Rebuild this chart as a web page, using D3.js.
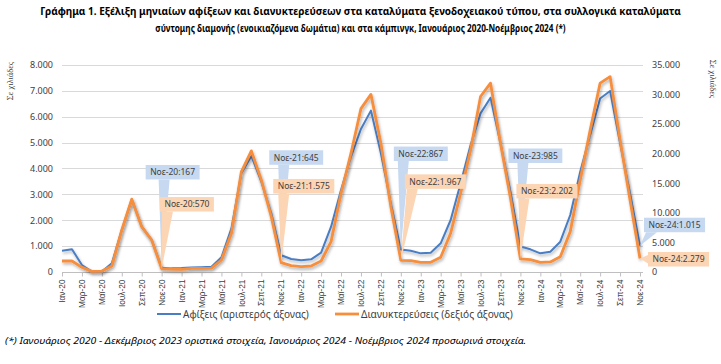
<!DOCTYPE html>
<html><head><meta charset="utf-8">
<script src="https://cdn.jsdelivr.net/npm/d3@7"></script>
<style>
body{margin:0;background:#fff;}
svg{display:block;font-family:"Noto Sans",sans-serif;}
</style></head>
<body><svg id="c" width="721" height="364"></svg>
<script>
const categories = [
"Ιαν-20","Φεβ-20","Μαρ-20","Απρ-20","Μαϊ-20","Ιουν-20","Ιουλ-20","Αυγ-20","Σεπ-20","Οκτ-20","Νοε-20","Δεκ-20",
"Ιαν-21","Φεβ-21","Μαρ-21","Απρ-21","Μαϊ-21","Ιουν-21","Ιουλ-21","Αυγ-21","Σεπ-21","Οκτ-21","Νοε-21","Δεκ-21",
"Ιαν-22","Φεβ-22","Μαρ-22","Απρ-22","Μαϊ-22","Ιουν-22","Ιουλ-22","Αυγ-22","Σεπ-22","Οκτ-22","Νοε-22","Δεκ-22",
"Ιαν-23","Φεβ-23","Μαρ-23","Απρ-23","Μαϊ-23","Ιουν-23","Ιουλ-23","Αυγ-23","Σεπ-23","Οκτ-23","Νοε-23","Δεκ-23",
"Ιαν-24","Φεβ-24","Μαρ-24","Απρ-24","Μαϊ-24","Ιουν-24","Ιουλ-24","Αυγ-24","Σεπ-24","Οκτ-24","Νοε-24"];
// Αφίξεις (thousands, left axis)
const arrivals = [
822,876,270,15,20,335,1620,2800,1750,1235,167,140,
150,175,185,200,567,1687,3810,4480,3487,2265,645,500,
450,490,745,1750,3166,4450,5520,6230,4580,2650,867,823,
720,745,1108,2008,3425,4900,6125,6730,4970,3100,985,876,
720,785,1170,2200,3870,5290,6700,6990,4970,3040,1015];
// Διανυκτερεύσεις (thousands, right axis)
const overnights = [
1860,1860,790,100,150,1010,7100,12300,7660,5400,570,500,
450,600,625,650,2030,6540,16960,20460,15560,9350,1575,1070,
900,1010,1860,5130,13300,20070,27600,30000,21760,11040,1967,1910,
1640,1640,2490,6540,13300,20630,29640,31900,21760,12500,2202,2100,
1640,1700,2590,6820,15560,24000,31900,33000,22320,12170,2279];
const leftTicks = [0,1000,2000,3000,4000,5000,6000,7000,8000];
const rightTicks = [0,5000,10000,15000,20000,25000,30000,35000];
const tickLabels = categories.filter((d,i)=>i%2===0);
const calloutMonths = ["Νοε-20","Νοε-21","Νοε-22","Νοε-23","Νοε-24"];
const titleLines = ["Γράφημα 1. Εξέλιξη μηνιαίων αφίξεων και διανυκτερεύσεων στα καταλύματα ξενοδοχειακού τύπου, στα συλλογικά καταλύματα",
"σύντομης διαμονής (ενοικιαζόμενα δωμάτια) και στα κάμπινγκ, Ιανουάριος 2020-Νοέμβριος 2024 (*)"];
const seriesNames = ["Αφίξεις (αριστερός άξονας)","Διανυκτερεύσεις (δεξιός άξονας)"];
const axisTitle = "Σε χιλιάδες";
const footnote = "(*) Ιανουάριος 2020 - Δεκέμβριος 2023 οριστικά στοιχεία, Ιανουάριος 2024 - Νοέμβριος 2024 προσωρινά στοιχεία.";

const loc = d3.formatLocale({decimal:",",thousands:".",grouping:[3],currency:["","€"]});
const fmt = loc.format(",d");

const svg = d3.select("#c");
const X0=62, X1=640, XR=643, Y0=272, YT=64.8;
const BLUE="#4a7ec4", ORANGE="#f68e3c";
const x = d3.scalePoint().domain(categories).range([X0,X1]);
const yL = d3.scaleLinear().domain([0,8000]).range([Y0,YT]);
const yR = d3.scaleLinear().domain([0,35000]).range([Y0,YT]);

const defs = svg.append("defs");
const f = defs.append("filter").attr("id","sh").attr("x","-10%").attr("y","-10%").attr("width","120%").attr("height","130%");
f.append("feDropShadow").attr("dx",1).attr("dy",2).attr("stdDeviation",1.5).attr("flood-color","#000").attr("flood-opacity",0.3);

// fit text horizontally by scaling (keeps real bounding box inside target width)
function fitText(sel, cx, cy, targetW, anchor){
  sel.attr("x",0).attr("y",0).attr("text-anchor",anchor||"middle");
  const w = sel.node().getComputedTextLength();
  const s = targetW / w;
  sel.attr("transform",`translate(${cx},${cy}) scale(${s},1)`);
}

// title
titleLines.forEach((t,i)=>{
  const el = svg.append("text").attr("font-size",10.8).attr("font-weight","bold").attr("fill","#000").text(t);
  fitText(el, 360.5, 15+i*16.5, i===0?641:411, "middle");
});

// gridlines
svg.append("g").selectAll("line").data(leftTicks.slice(1)).join("line")
  .attr("x1",X0).attr("x2",XR).attr("y1",d=>Math.round(yL(d))+0.5).attr("y2",d=>Math.round(yL(d))+0.5)
  .attr("stroke","#d9d9d9").attr("stroke-width",1);

// left axis
const gl = svg.append("g").attr("transform",`translate(${X0},0)`)
  .call(d3.axisLeft(yL).tickValues(leftTicks).tickFormat(fmt).tickSize(0).tickPadding(9));
gl.select(".domain").remove();
gl.selectAll("text").attr("font-size",9).attr("fill","#404040").attr("font-family","Noto Sans");
// right axis
const gr = svg.append("g").attr("transform",`translate(${XR},0)`)
  .call(d3.axisRight(yR).tickValues(rightTicks).tickFormat(fmt).tickSize(0).tickPadding(9));
gr.select(".domain").remove();
gr.selectAll("text").attr("font-size",9).attr("fill","#404040").attr("font-family","Noto Sans");

// axis titles
svg.append("text").attr("transform","translate(13,81) rotate(-90)").attr("text-anchor","middle")
  .attr("font-size",8.5).attr("fill","#404040").attr("font-family","Liberation Serif").text(axisTitle);
svg.append("text").attr("transform","translate(710,79) rotate(90)").attr("text-anchor","middle")
  .attr("font-size",8.5).attr("fill","#404040").attr("font-family","Liberation Serif").text(axisTitle);

// x axis
const gx = svg.append("g").attr("transform",`translate(0,${Y0+0.5})`)
  .call(d3.axisBottom(x).tickValues(tickLabels).tickSize(4).tickSizeOuter(0).tickPadding(3));
gx.select(".domain").attr("d",`M${X0},0H${XR}`).attr("stroke","#bfbfbf");
gx.selectAll(".tick line").attr("stroke","#bfbfbf");
gx.selectAll("text").attr("font-size",8.3).attr("fill","#404040")
  .attr("transform","rotate(-90)").attr("text-anchor","end")
  .attr("x",0).attr("y",0).attr("dy","0.32em").attr("dx","-7");

// lines
const lineL = d3.line().x((d,i)=>x(categories[i])).y(d=>yL(d));
const lineR = d3.line().x((d,i)=>x(categories[i])).y(d=>yR(d));
svg.append("path").datum(arrivals).attr("d",lineL).attr("fill","none").attr("stroke",BLUE)
  .attr("stroke-width",2).attr("stroke-linejoin","round").attr("filter","url(#sh)");
svg.append("path").datum(overnights).attr("d",lineR).attr("fill","none").attr("stroke",ORANGE)
  .attr("stroke-width",2.8).attr("stroke-linejoin","round").attr("filter","url(#sh)");

// callouts
const blueOff = [[-16,-102.7],[-12,-105],[-7,-103],[-12,-98],[4,-28]];
const orangeOff = [[-1.7,-71.6],[-8,-83.7],[4,-86],[-4,-75],[8,-6.5]];
const cg = svg.append("g");
function callout(cat, val, scale, off, fill){
  const px = x(cat), py = scale(val);
  const g = cg.append("g");
  const t = g.append("text").attr("font-size",8.5).attr("fill","#404040").text(cat+":"+fmt(val));
  const w = t.node().getComputedTextLength()+9, h = 14.5;
  const L = px+off[0], T = py+off[1], B = T+h;
  let pts;
  if (py > B) {
    let xa = Math.max(L+2, Math.min(px-3, L+w-14));
    pts = [[xa,B],[xa+11,B],[px,py]];
  } else {
    pts = [[L,T+3],[L,B-3],[px,py]];
  }
  g.insert("polygon","text").attr("points",pts.map(p=>p.join(",")).join(" ")).attr("fill",fill);
  g.insert("rect","text").attr("x",L).attr("y",T).attr("width",w).attr("height",h).attr("fill",fill);
  t.attr("x",L+w/2).attr("y",T+h/2).attr("dy","0.35em").attr("text-anchor","middle");
}
calloutMonths.forEach((m,k)=>{
  const i = categories.indexOf(m);
  callout(m, arrivals[i], yL, blueOff[k], "#c6d9f1");
});
calloutMonths.forEach((m,k)=>{
  const i = categories.indexOf(m);
  callout(m, overnights[i], yR, orangeOff[k], "#fcd5b4");
});

// legend
const lg = svg.append("g");
const legItems = [{x:157,c:BLUE,w:2,t:seriesNames[0],tl:126},{x:335,c:ORANGE,w:2.8,t:seriesNames[1],tl:152}];
legItems.forEach(d=>{
  lg.append("line").attr("x1",d.x).attr("x2",d.x+24).attr("y1",314).attr("y2",314).attr("stroke",d.c).attr("stroke-width",d.w);
  const el = lg.append("text").attr("dy","0.35em").attr("font-size",10).attr("fill","#404040").text(d.t);
  fitText(el, d.x+26, 314, d.tl, "start");
});

// footnote
const fn = svg.append("text").attr("font-size",9.3).attr("font-style","italic").attr("fill","#000").text(footnote);
fitText(fn, 5, 344, 522, "start");
</script></body></html>
